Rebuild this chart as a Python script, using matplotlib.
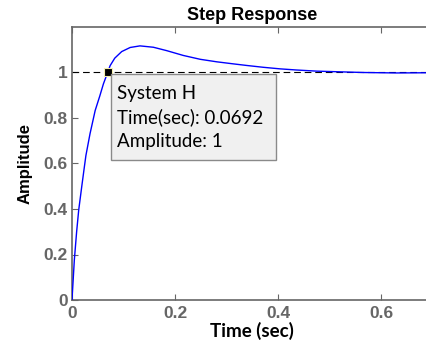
"""
Step response of System H with a MATLAB-style data tip at the first crossing of 1.
"""

import matplotlib
matplotlib.use("Agg")
import matplotlib.pyplot as plt
from matplotlib.patches import Rectangle

# values
time_s = [0.0, 0.0045, 0.009, 0.013, 0.019, 0.024, 0.027, 0.035, 0.045, 0.054,
          0.061, 0.0692, 0.074, 0.083, 0.0965, 0.113, 0.132, 0.158, 0.184,
          0.216, 0.249, 0.281, 0.313, 0.339, 0.371, 0.404, 0.436, 0.475,
          0.520, 0.566, 0.630, 0.700]
amplitude = [0.0, 0.175, 0.30, 0.395, 0.50, 0.585, 0.635, 0.731, 0.833, 0.897,
             0.950, 1.0, 1.030, 1.063, 1.092, 1.110, 1.117, 1.111, 1.096,
             1.075, 1.058, 1.047, 1.038, 1.031, 1.023, 1.016, 1.011, 1.006,
             1.003, 1.000, 0.998, 0.999]

tip_time = 0.0692
tip_amp = 1.0
tip_lines = ["System H", "Time(sec): 0.0692", "Amplitude: 1"]

x_ticks = [0, 0.2, 0.4, 0.6]
y_ticks = [0, 0.2, 0.4, 0.6, 0.8, 1]

GREY = "#666666"
W, H = 427, 354

fig = plt.figure(figsize=(W / 100, H / 100), dpi=100)
ax = fig.add_axes([72 / W, 54 / H, 360.5 / W, 273 / H])

ax.plot(time_s, amplitude, color="#0000ff", lw=1.0, zorder=3)
ax.axhline(1.0, color="black", lw=0.8, dashes=(6, 3.5), zorder=2)
ax.plot([tip_time], [tip_amp], marker="s", ms=5.5, color="black",
        mec="#f5f0b0", mew=0.8, zorder=5)

ax.set_xlim(0, 0.7)
ax.set_ylim(0, 1.2)
ax.set_xticks(x_ticks)
ax.set_xticklabels(["0", "0.2", "0.4", "0.6"])
ax.set_yticks(y_ticks)
ax.set_yticklabels(["0", "0.2", "0.4", "0.6", "0.8", "1"])

for lbl in ax.get_xticklabels() + ax.get_yticklabels():
    lbl.set_fontfamily("Liberation Sans")
    lbl.set_fontweight("bold")
    lbl.set_fontsize(12.5)
    lbl.set_color(GREY)

ax.tick_params(direction="in", length=4, width=0.8, color=GREY, top=True)
ax.tick_params(axis="x", pad=4)
ax.tick_params(axis="y", pad=3)
for sp in ax.spines.values():
    sp.set_color(GREY)
    sp.set_linewidth(1.2)

ax.set_title("Step Response", fontfamily="Liberation Sans", fontweight="bold",
             fontsize=13, pad=5)
ax.set_xlabel("Time (sec)", fontfamily="Lato", fontweight="bold", fontsize=13.5,
              labelpad=1)
ax.set_ylabel("Amplitude", fontfamily="Liberation Sans", fontweight="bold",
              fontsize=12, labelpad=8)

# data tip box, placed in figure pixels just below-right of the marker
box = Rectangle((111.5 / W, (H - 159.5) / H), 164.5 / W, 85.5 / H,
                transform=fig.transFigure, fc="#f0f0f0", ec="#8a8a8a", lw=1.0,
                zorder=6)
fig.add_artist(box)
for i, line in enumerate(tip_lines):
    fig.text(117.5 / W, (H - 99.5 - 24 * i) / H, line, ha="left", va="baseline",
             fontfamily="Lato", fontsize=13.5, zorder=7)

fig.savefig("out.png", dpi=100)
